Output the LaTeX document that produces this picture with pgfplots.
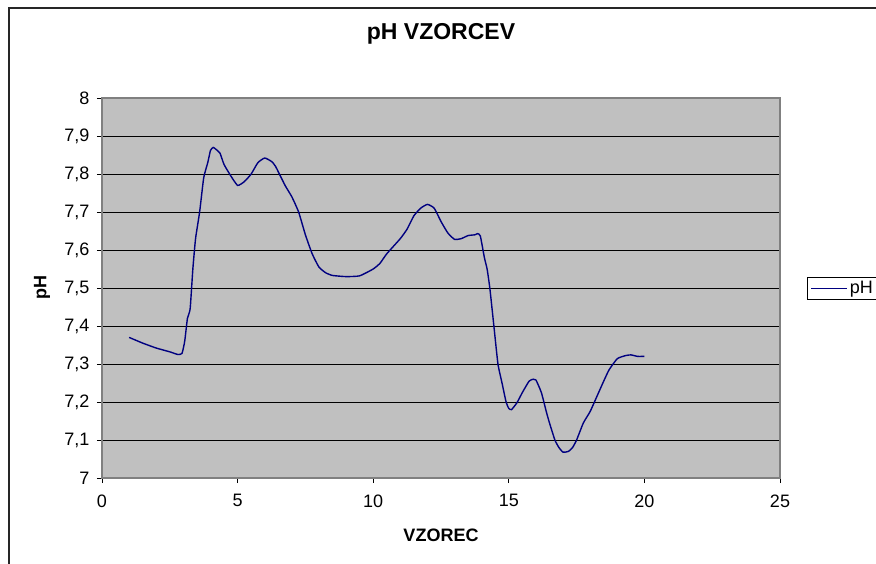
\documentclass[border=0pt]{standalone}
\usepackage{fontspec}
\setmainfont{Liberation Sans}
\usepackage{pgfplots}
\pgfplotsset{compat=1.18}
\definecolor{plotgray}{HTML}{C0C0C0}
\definecolor{navyline}{HTML}{000080}
\definecolor{framegray}{HTML}{808080}
\begin{document}
\begin{tikzpicture}[x=1pt,y=1pt]
\useasboundingbox (0,0) rectangle (876,563);
\begin{scope}
\clip (0,0) rectangle (876,563);
\draw[line width=1.2pt, black!85] (9,-20) -- (9,555) -- (900,555);
\end{scope}
\begin{axis}[
  at={(102pt,85pt)}, anchor=south west,
  scale only axis, width=678pt, height=380pt,
  xmin=0, xmax=25, ymin=7, ymax=8,
  xtick={0,5,10,15,20,25},
  ytick={7,7.1,7.2,7.3,7.4,7.5,7.6,7.7,7.8,7.9,8},
  tick pos=left, tick align=outside, major tick length=5pt,
  tick style={black, line width=0.8pt},
  axis background/.style={fill=plotgray},
  axis line style={draw=framegray, line width=1.2pt},
  ymajorgrids, major grid style={black, line width=0.9pt},
  /pgf/number format/assume math mode=true,
  /pgf/number format/.cd, use comma, fixed, precision=1, /pgfplots/.cd,
  tick label style={font=\fontsize{18}{20}\selectfont},
  xticklabel style={yshift=-8pt},
  yticklabel style={xshift=-4pt},
  title={\bfseries pH VZORCEV},
  title style={font=\fontsize{23}{26}\selectfont, at={(axis description cs:0.5,1.1526)}, anchor=center},
  xlabel={\bfseries VZOREC},
  xlabel style={font=\fontsize{18}{20}\selectfont, at={(axis description cs:0.5,-0.150)}, anchor=center},
  ylabel={\bfseries pH},
  ylabel style={font=\fontsize{18}{20}\selectfont, at={(axis description cs:-0.0885,0.5)}, anchor=center},
  legend style={at={(axis description cs:1.0398,0.4987)}, anchor=west, draw=black, line width=0.8pt, fill=white,
    font=\fontsize{18}{20}\selectfont, inner xsep=3pt, inner ysep=2pt},
  legend image code/.code={\draw[#1] (0pt,0pt) -- (36pt,0pt);},
]
\addplot[navyline, line width=1.4pt, smooth, tension=0.3] coordinates {
(1.0,7.37) (1.5,7.355) (2.0,7.342) (2.5,7.332) (2.8,7.325) (2.95,7.328)
(3.05,7.36) (3.15,7.42) (3.25,7.445) (3.35,7.55) (3.45,7.63) (3.6,7.70)
(3.75,7.79) (3.9,7.83) (4.0,7.862) (4.1,7.87) (4.2,7.865) (4.35,7.855)
(4.5,7.825) (4.75,7.795) (5.0,7.77) (5.25,7.78) (5.5,7.80) (5.75,7.83)
(6.0,7.842) (6.25,7.833) (6.4,7.82) (6.75,7.77) (7.0,7.74) (7.25,7.70)
(7.5,7.64) (7.75,7.59) (8.0,7.555) (8.25,7.54) (8.5,7.533) (9.0,7.53)
(9.5,7.532) (10.0,7.55) (10.25,7.565) (10.5,7.59) (11.0,7.63) (11.25,7.655)
(11.5,7.69) (11.75,7.71) (12.0,7.72) (12.25,7.71) (12.5,7.675) (12.75,7.645)
(13.0,7.628) (13.25,7.63) (13.5,7.638) (13.75,7.64) (13.85,7.643) (13.95,7.637)
(14.1,7.58) (14.2,7.55) (14.3,7.50) (14.45,7.40) (14.6,7.30) (14.75,7.25)
(14.9,7.20) (15.0,7.183) (15.1,7.18) (15.3,7.198) (15.5,7.225) (15.75,7.255)
(15.9,7.26) (16.0,7.258) (16.2,7.225) (16.4,7.17) (16.5,7.145) (16.7,7.10)
(16.85,7.08) (17.0,7.068) (17.2,7.07) (17.35,7.08) (17.5,7.10) (17.75,7.145)
(18.0,7.175) (18.25,7.215) (18.5,7.255) (18.7,7.285) (19.0,7.314) (19.3,7.322)
(19.5,7.324) (19.75,7.32) (20.0,7.32)
};
\addlegendentry{pH}
\end{axis}
\end{tikzpicture}
\end{document}
